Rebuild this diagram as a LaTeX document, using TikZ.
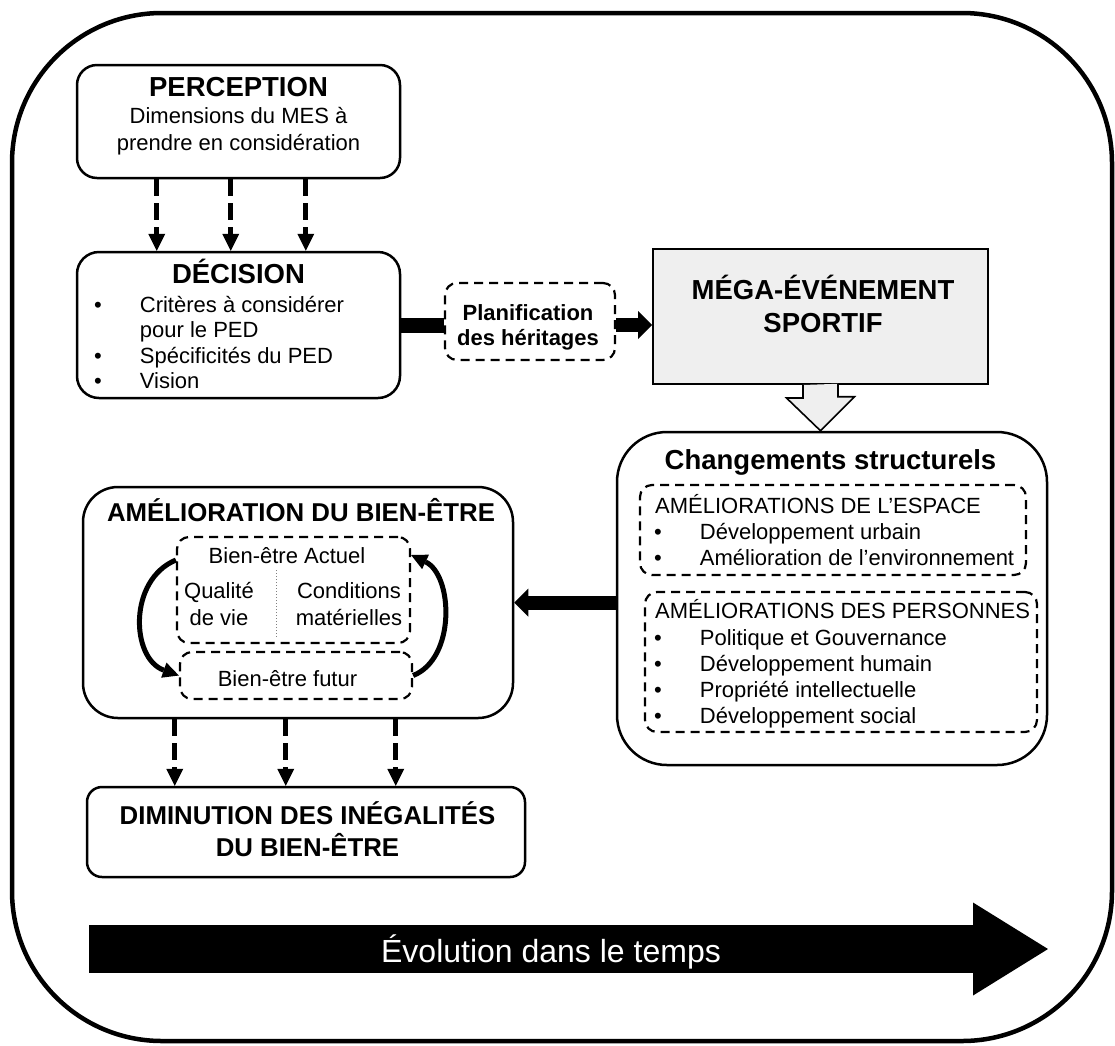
\documentclass[tikz,border=0pt]{standalone}
\usepackage{fontspec}
\setmainfont{Liberation Sans}
\usetikzlibrary{arrows.meta}
\definecolor{megagray}{HTML}{EFEFEF}

\begin{document}
\begin{tikzpicture}[x=1pt, y=-1pt,
  box/.style={draw, line width=2.5pt, rounded corners=#1, inner sep=0pt},
  box/.default=20pt,
  dbox/.style={draw, line width=2.2pt, dash pattern=on 9pt off 6pt, rounded corners=12pt, inner sep=0pt},
  ttl/.style={font=\fontsize{27.5}{33}\selectfont\bfseries, anchor=base, inner sep=0pt},
  sttl/.style={font=\fontsize{25.8}{32}\selectfont\bfseries, anchor=base, inner sep=0pt},
  txt/.style={font=\fontsize{22}{26}\selectfont, anchor=base, inner sep=0pt},
  btxt/.style={txt, font=\fontsize{22}{26}\selectfont\bfseries},
  lst/.style={anchor=north west, inner sep=0pt, font=\fontsize{22}{#1}\selectfont},
  dasharrow/.style={line width=5pt, dash pattern=on 17pt off 7pt, -{Triangle[length=17pt,width=17pt,line width=0pt]}},
  fatarrow/.style={line width=14pt, -{Triangle[length=14pt,width=28pt,line width=0pt]}},
  curvearrow/.style={line width=5pt, -{Triangle[length=16pt,width=16pt,line width=0pt]}}]
\useasboundingbox (0,0) rectangle (1115,1045);
\draw[line width=4.5pt, rounded corners=150pt] (12,13) rectangle (1112,1041);

\node[box=20pt, minimum width=323pt, minimum height=113pt] (perc) at (238.5,121.5) {};
\node[ttl] (percT) at (238.5,96) {PERCEPTION};
\node[txt] (percA) at (238.5,123) {Dimensions du MES à};
\node[txt] (percB) at (238.5,150) {prendre en considération};

\node[box=22pt, minimum width=323pt, minimum height=146pt] (dec) at (238.5,325) {};
\node[ttl] (decT) at (238.5,283) {DÉCISION};
\node[lst=25.5] (decL) at (94,294) {\begin{tabular}{@{}l@{\hspace{38pt}}l@{}}
  \textbullet & Critères à considérer\\
  & pour le PED\\
  \textbullet & Spécificités du PED\\
  \textbullet & Vision
\end{tabular}};

\foreach \dx in {81,155,230}
  \draw[dasharrow] ([xshift=\dx pt]perc.south west) -- ([xshift=\dx pt]dec.north west);

\node[dbox, minimum width=170pt, minimum height=77pt] (plan) at (530,321.5) {};
\node[btxt] (planA) at (528,320) {Planification};
\node[btxt] (planB) at (528,345) {des héritages};

\node[draw, fill=megagray, line width=2pt, minimum width=335pt, minimum height=135pt, inner sep=0pt] (mega) at (820.5,316.5) {};
\node[ttl] (megaA) at (823,299) {MÉGA-ÉVÉNEMENT};
\node[ttl] (megaB) at (823,332) {SPORTIF};

\draw[line width=15pt] (dec.east) -- (plan.west |- dec.east);
\draw[fatarrow] (plan.east |- dec.east) -- (mega.west |- dec.east);

\node[box=50pt, minimum width=430pt, minimum height=333pt] (chg) at (832,598.5) {};
\node[ttl] (chgT) at (830.5,469) {Changements structurels};
\node[dbox, minimum width=386pt, minimum height=90pt] (esp) at (833,530) {};
\node[txt, anchor=base west] (espT) at (655,513) {AMÉLIORATIONS DE L’ESPACE};
\node[lst=26.5] (espL) at (654,520.5) {\begin{tabular}{@{}l@{\hspace{38pt}}l@{}}
  \textbullet & Développement urbain\\
  \textbullet & Amélioration de l’environnement
\end{tabular}};
\node[dbox, minimum width=392pt, minimum height=140pt] (pers) at (841,662) {};
\node[txt, anchor=base west] (persT) at (655,618) {AMÉLIORATIONS DES PERSONNES};
\node[lst=26.2] (persL) at (654,626.7) {\begin{tabular}{@{}l@{\hspace{38pt}}l@{}}
  \textbullet & Politique et Gouvernance\\
  \textbullet & Développement humain\\
  \textbullet & Propriété intellectuelle\\
  \textbullet & Développement social
\end{tabular}};

\draw[line width=1.6pt, fill=megagray] ([xshift=-17.5pt]mega.south) -- ++(0,13) -- ++(-16.5,0)
  -- (chg.north -| mega.south) -- ++(34,-34) -- ++(-16.5,0) -- ++(0,-13);

\node[box=35pt, minimum width=430pt, minimum height=231pt] (amel) at (298,602.5) {};
\node[sttl] (amelT) at (301,521) {AMÉLIORATION DU BIEN-ÊTRE};
\node[dbox, minimum width=233pt, minimum height=106pt] (act) at (293.5,590) {};
\node[txt] (actT) at (287,563) {Bien-être Actuel};
\node[txt] (qualA) at (219,598) {Qualité};
\node[txt] (qualB) at (219,625) {de vie};
\node[txt] (condA) at (349,598) {Conditions};
\node[txt] (condB) at (349,625) {matérielles};
\draw[gray, dotted, line width=1pt] (276,570) -- (276,638);
\node[dbox, minimum width=232pt, minimum height=47pt] (fut) at (296,675.5) {};
\node[txt] (futT) at (287.5,686) {Bien-être futur};

\draw[curvearrow] ([yshift=30pt]act.west) .. controls +(-48,20) and +(-48,-17) .. (fut.west);
\draw[curvearrow] (fut.east) .. controls +(43,-17) and +(42,20) .. ([yshift=35pt]act.east);

\draw[fatarrow] (chg.west |- amel.east) -- (amel.east);

\node[box=15pt, minimum width=438pt, minimum height=90pt] (dim) at (306,832) {};
\node[sttl] (dimA) at (307.5,824) {DIMINUTION DES INÉGALITÉS};
\node[sttl] (dimB) at (307.5,856) {DU BIEN-ÊTRE};

\foreach \dx in {93,204,314}
  \draw[dasharrow] ([xshift=\dx pt]amel.south west) -- ([xshift=\dx pt]amel.south west |- dim.north);

\coordinate (evoS) at (89,949);
\coordinate (evoE) at (1048,949);
\draw[line width=48pt, -{Triangle[length=75pt,width=93pt,line width=0pt]}] (evoS) -- (evoE);
\node[anchor=base, inner sep=0pt, text=white, font=\fontsize{32}{38}\selectfont] (evoT) at (551,962) {Évolution dans le temps};
\end{tikzpicture}
\end{document}
